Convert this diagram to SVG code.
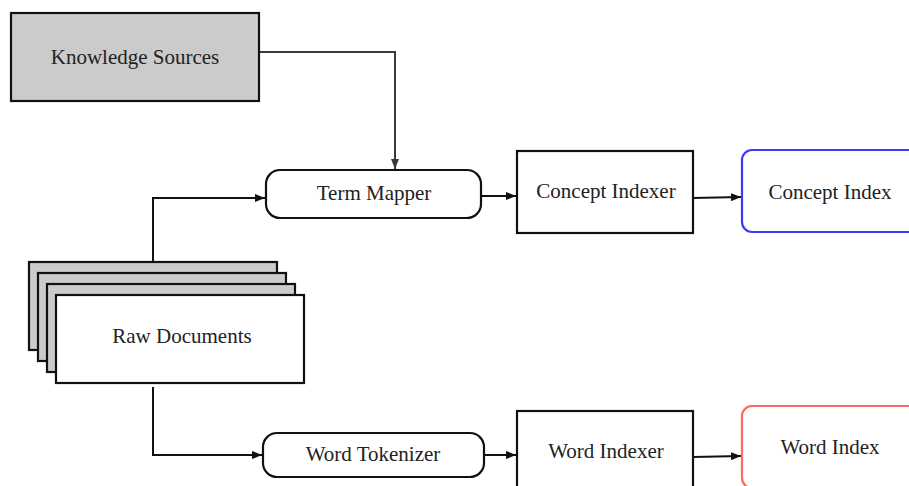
<svg xmlns="http://www.w3.org/2000/svg" width="909" height="486" viewBox="0 0 909 486">
  <style>
    .lbl { font-family: "Liberation Serif", "DejaVu Serif", serif; font-size: 21px; fill: #222; text-anchor: middle; dominant-baseline: central; }
    .box { fill: #ffffff; stroke: #111; stroke-width: 2.2; }
    .gray { fill: #cbcbcb; stroke: #111; stroke-width: 2.2; }
    .edge { fill: none; stroke: #111; stroke-width: 2; }
    .edge-soft { fill: none; stroke: #3a3a3a; stroke-width: 2; }
  </style>
  <defs>
    <marker id="arr" viewBox="0 0 10 8" refX="10" refY="4" markerWidth="10" markerHeight="8" markerUnits="userSpaceOnUse" orient="auto">
      <path d="M0,0 L10,4 L0,8 Z" fill="#111"/>
    </marker>
    <marker id="arr-soft" viewBox="0 0 10 8" refX="10" refY="4" markerWidth="10" markerHeight="8" markerUnits="userSpaceOnUse" orient="auto">
      <path d="M0,0 L10,4 L0,8 Z" fill="#3a3a3a"/>
    </marker>
  </defs>

  <g id="connectors">
    <path class="edge-soft" d="M259,52 L395,52 L395,169" marker-end="url(#arr-soft)"/>
    <path class="edge" d="M153,262 L153,198 L265,198" marker-end="url(#arr)"/>
    <path class="edge" d="M481,196 L516,196" marker-end="url(#arr)"/>
    <path class="edge" d="M693,198 L741,197" marker-end="url(#arr)"/>
    <path class="edge" d="M153,387 L153,455 L262,455" marker-end="url(#arr)"/>
    <path class="edge" d="M484,455 L516,455" marker-end="url(#arr)"/>
    <path class="edge" d="M693,457 L741,456" marker-end="url(#arr)"/>
  </g>

  <g id="knowledge-sources">
    <rect class="gray" x="11" y="13" width="248" height="88"/>
    <text class="lbl" x="135" y="57">Knowledge Sources</text>
  </g>

  <g id="term-mapper">
    <rect class="box" x="266" y="170" width="215" height="48" rx="14"/>
    <text class="lbl" x="374" y="193">Term Mapper</text>
  </g>

  <g id="concept-indexer">
    <rect class="box" x="517" y="151" width="176" height="82"/>
    <text class="lbl" x="606" y="191">Concept Indexer</text>
  </g>

  <g id="concept-index">
    <rect x="742" y="150" width="190" height="82" rx="10" fill="#fff" stroke="#3a3aff" stroke-width="2.2"/>
    <text class="lbl" x="830" y="192">Concept Index</text>
  </g>

  <g id="raw-documents">
    <rect class="gray" x="29" y="262" width="248" height="88"/>
    <rect class="gray" x="38" y="273" width="248" height="88"/>
    <rect class="gray" x="47" y="284" width="248" height="88"/>
    <rect class="box" x="56" y="295" width="248" height="88"/>
    <text class="lbl" x="182" y="336">Raw Documents</text>
  </g>

  <g id="word-tokenizer">
    <rect class="box" x="263" y="433" width="221" height="44" rx="14"/>
    <text class="lbl" x="373" y="454">Word Tokenizer</text>
  </g>

  <g id="word-indexer">
    <rect class="box" x="517" y="411" width="176" height="82"/>
    <text class="lbl" x="606" y="451">Word Indexer</text>
  </g>

  <g id="word-index">
    <rect x="742" y="406" width="190" height="82" rx="10" fill="#fff" stroke="#ff6666" stroke-width="2.2"/>
    <text class="lbl" x="830" y="447">Word Index</text>
  </g>
</svg>
